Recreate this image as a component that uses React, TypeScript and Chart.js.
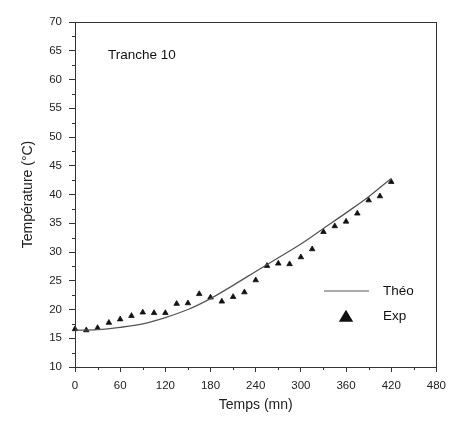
import React, { useEffect, useRef } from "react";
import { Chart, registerables } from "chart.js";

Chart.register(...registerables);

// Time (mn) for the experimental points
const expTimes = [0, 15, 30, 45, 60, 75, 90, 105, 120, 135, 150, 165, 180, 195, 210, 225, 240, 255, 270, 285, 300, 315, 330, 345, 360, 375, 390, 405, 420];
// Experimental temperatures (°C)
const expValues = [16.6, 16.4, 16.8, 17.7, 18.3, 18.9, 19.5, 19.4, 19.4, 21.0, 21.1, 22.7, 22.1, 21.4, 22.2, 23.0, 25.1, 27.6, 28.0, 27.9, 29.1, 30.5, 33.5, 34.5, 35.3, 36.7, 39.0, 39.7, 42.2];

// Theoretical curve
const theoTimes = [0, 30, 60, 90, 120, 150, 180, 210, 240, 270, 300, 330, 360, 390, 420];
const theoValues = [16.4, 16.5, 16.9, 17.5, 18.6, 20.0, 21.9, 24.2, 26.6, 29.0, 31.4, 34.1, 36.8, 39.6, 42.8];

const xTickValues = [0, 60, 120, 180, 240, 300, 360, 420, 480];
const xMinorTicks = [30, 90, 150, 210, 270, 330, 390, 450];
const yTickValues = [10, 15, 20, 25, 30, 35, 40, 45, 50, 55, 60, 65, 70];
const yMinorTicks = [12.5, 17.5, 22.5, 27.5, 32.5, 37.5, 42.5, 47.5, 52.5, 57.5, 62.5, 67.5];

const seriesNames = ["Théo", "Exp"];
const annotationText = "Tranche 10";
const xTitle = "Temps (mn)";
const yTitle = "Température (°C)";

const FONT = "'Liberation Sans', Arial, sans-serif";
const AXIS_COLOR = "#333";

const decorPlugin = {
  id: "decor",
  afterDraw(chart: any) {
    const { ctx, chartArea } = chart;
    const xs = chart.scales.x;
    const ys = chart.scales.y;
    ctx.save();
    // frame
    ctx.strokeStyle = AXIS_COLOR;
    ctx.lineWidth = 1;
    ctx.strokeRect(
      Math.round(chartArea.left) + 0.5,
      Math.round(chartArea.top) + 0.5,
      Math.round(chartArea.right - chartArea.left),
      Math.round(chartArea.bottom - chartArea.top)
    );
    // minor ticks
    ctx.beginPath();
    xMinorTicks.forEach((v) => {
      const px = Math.round(xs.getPixelForValue(v)) + 0.5;
      ctx.moveTo(px, chartArea.bottom);
      ctx.lineTo(px, chartArea.bottom + 3);
    });
    yMinorTicks.forEach((v) => {
      const py = Math.round(ys.getPixelForValue(v)) + 0.5;
      ctx.moveTo(chartArea.left, py);
      ctx.lineTo(chartArea.left - 3, py);
    });
    ctx.stroke();

    // annotation
    ctx.fillStyle = "#111";
    ctx.font = `13.5px ${FONT}`;
    ctx.textAlign = "left";
    ctx.textBaseline = "middle";
    ctx.fillText(annotationText, chartArea.left + 33, chartArea.top + 33);

    // legend
    const lx = chartArea.left + 249;
    const ly1 = chartArea.top + 269;
    const ly2 = chartArea.top + 294.5;
    ctx.strokeStyle = "#555";
    ctx.lineWidth = 1.2;
    ctx.beginPath();
    ctx.moveTo(lx, ly1);
    ctx.lineTo(lx + 45, ly1);
    ctx.stroke();
    ctx.fillText(seriesNames[0], lx + 59, ly1);

    const tcx = lx + 22;
    const r = 8;
    ctx.fillStyle = "#111";
    ctx.beginPath();
    ctx.moveTo(tcx, ly2 - r * 0.85);
    ctx.lineTo(tcx + r * 0.9, ly2 + r * 0.65);
    ctx.lineTo(tcx - r * 0.9, ly2 + r * 0.65);
    ctx.closePath();
    ctx.fill();
    ctx.fillText(seriesNames[1], lx + 59, ly2);
    ctx.restore();
  },
};

export default function App() {
  const canvasRef = useRef<HTMLCanvasElement | null>(null);

  useEffect(() => {
    if (!canvasRef.current) return;
    const chart = new Chart(canvasRef.current, {
      type: "line",
      data: {
        datasets: [
          {
            label: seriesNames[0],
            data: theoTimes.map((t, i) => ({ x: t, y: theoValues[i] })),
            borderColor: "#555",
            borderWidth: 1.3,
            pointRadius: 0,
            fill: false,
            cubicInterpolationMode: "monotone",
          },
          {
            label: seriesNames[1],
            data: expTimes.map((t, i) => ({ x: t, y: expValues[i] })),
            showLine: false,
            clip: false,
            pointStyle: "triangle",
            pointRadius: 3.2,
            borderWidth: 0.8,
            borderColor: "#111",
            backgroundColor: "#111",
          },
        ],
      },
      plugins: [decorPlugin],
      options: {
        animation: false,
        responsive: false,
        events: [],
        layout: { padding: { left: 16, right: 14, top: 22, bottom: 0 } },
        plugins: {
          legend: { display: false },
          tooltip: { enabled: false },
        },
        scales: {
          x: {
            type: "linear",
            min: 0,
            max: 480,
            afterBuildTicks: (scale: any) => {
              scale.ticks = xTickValues.map((v) => ({ value: v }));
            },
            afterFit: (scale: any) => {
              scale.height = 54;
            },
            ticks: {
              font: { family: FONT, size: 11.5 },
              color: "#222",
              padding: 7,
              maxRotation: 0,
              autoSkip: false,
            },
            grid: {
              drawOnChartArea: false,
              drawTicks: true,
              tickLength: 5,
              color: AXIS_COLOR,
            },
            border: { display: false },
            title: {
              display: true,
              text: xTitle,
              font: { family: FONT, size: 14 },
              color: "#222",
              padding: { top: 0, bottom: 7 },
            },
          },
          y: {
            type: "linear",
            min: 10,
            max: 70,
            afterBuildTicks: (scale: any) => {
              scale.ticks = yTickValues.map((v) => ({ value: v }));
            },
            afterFit: (scale: any) => {
              scale.width = 59;
            },
            ticks: {
              font: { family: FONT, size: 11.5 },
              color: "#222",
              padding: 7,
              autoSkip: false,
            },
            grid: {
              drawOnChartArea: false,
              drawTicks: true,
              tickLength: 6,
              color: AXIS_COLOR,
            },
            border: { display: false },
            title: {
              display: true,
              text: yTitle,
              font: { family: FONT, size: 14 },
              color: "#222",
              padding: { top: 4, bottom: 0 },
            },
          },
        },
      },
    } as any);
    return () => chart.destroy();
  }, []);

  return (
    <div style={{ position: "absolute", left: 0, top: 0, width: 453, height: 421, background: "#fff" }}>
      <canvas ref={canvasRef} width={453} height={421} style={{ display: "block" }} />
    </div>
  );
}
